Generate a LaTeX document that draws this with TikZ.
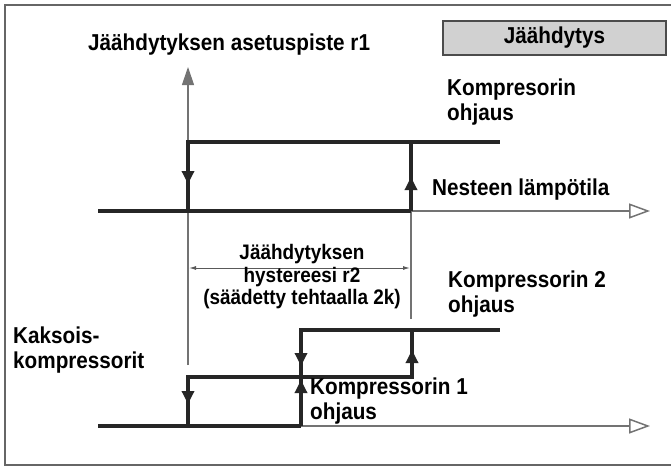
\documentclass[tikz,border=0pt]{standalone}
\usepackage{fontspec}
\setmainfont[FakeStretch=0.9]{Liberation Sans}
\usetikzlibrary{arrows.meta}

\begin{document}
\begin{tikzpicture}[x=1pt,y=-1pt,
  lbl/.style={font=\bfseries\fontsize{23}{25}\selectfont,align=left,anchor=west,inner sep=0pt},
  hystlbl/.style={font=\bfseries\fontsize{21}{22.5}\selectfont,align=center,inner sep=0pt},
  signal/.style={line width=3.5pt,draw=black!85,line join=miter},
  flow/.style={signal,-{Triangle[length=13pt,width=12pt]}},
  guide/.style={line width=1.2pt,draw=black!55},
  axisarrow/.style={guide,-{Triangle[open,length=21pt,width=15pt,line width=1.5pt]}},
  modebox/.style={draw=black!70,line width=1.5pt,fill=black!18,minimum width=223pt,minimum height=34pt,inner sep=0pt,font=\bfseries\fontsize{23}{25}\selectfont}
]
\useasboundingbox (0,0) rectangle (671,466);
\draw[line width=2pt,draw=black!60] (5,5) rectangle (675,465);
\coordinate (u0) at (98,211);
\coordinate (u1) at (188,211);
\coordinate (u2) at (188,142);
\coordinate (u3) at (411,142);
\coordinate (u4) at (500,142);
\coordinate (u5) at (411,211);
\coordinate (uend) at (650,211);
\coordinate (ud) at (188,184);
\coordinate (uu) at (411,177);
\coordinate (sp0) at (188,365);
\coordinate (sp1) at (188,67);
\coordinate (hy0) at (411,211);
\coordinate (hy1) at (411,319);
\coordinate (ha) at (189,268);
\coordinate (hb) at (410,268);
\coordinate (l0) at (98,426);
\coordinate (l1) at (188,426);
\coordinate (l2) at (188,377);
\coordinate (l3) at (301,426);
\coordinate (l4) at (301,377);
\coordinate (l5) at (412,377);
\coordinate (l6) at (301,330);
\coordinate (l7) at (412,330);
\coordinate (l8) at (500,330);
\coordinate (lend) at (650,426);
\coordinate (ld1) at (188,404);
\coordinate (lu1) at (301,380);
\coordinate (ld2) at (301,366);
\coordinate (lu2) at (412,350);
\draw[guide,-{Triangle[length=18pt,width=12pt]}] (sp0) -- (sp1);
\draw[guide] (hy0) -- (hy1);
\draw[line width=1pt,draw=black!65,{Latex[length=7pt,width=4pt]}-{Latex[length=7pt,width=4pt]}] (ha) -- (hb);
\draw[axisarrow] (u5) -- (uend);
\draw[axisarrow] (l3) -- (lend);
\draw[signal] (u0) -- (u5);
\draw[signal] (u1) -- (u2) -- (u4);
\draw[signal] (u5) -- (u3);
\draw[flow] (u2) -- (ud);
\draw[flow] (u5) -- (uu);
\draw[signal] (l0) -- (l3);
\draw[signal] (l1) -- (l2) -- (l5) -- (l7);
\draw[signal] (l3) -- (l6) -- (l8);
\draw[flow] (l2) -- (ld1);
\draw[flow] (l3) -- (lu1);
\draw[flow] (l6) -- (ld2);
\draw[flow] (l5) -- (lu2);
\node[lbl] (setpt) at (88,45) {Jäähdytyksen asetuspiste r1};
\node[modebox] (mode) at (554.5,38) {Jäähdytys};
\node[lbl] (comp) at (447,102.5) {Kompresorin\\ohjaus};
\node[lbl] (temp) at (432,190) {Nesteen lämpötila};
\node[hystlbl] (hyst) at (302,277) {Jäähdytyksen\\hystereesi r2\\(säädetty tehtaalla 2k)};
\node[lbl] (comp2) at (448,294) {Kompressorin 2\\ohjaus};
\node[lbl] (twin) at (13,350) {Kaksois-\\kompressorit};
\node[lbl] (comp1) at (310,401) {Kompressorin 1\\ohjaus};
\end{tikzpicture}
\end{document}
